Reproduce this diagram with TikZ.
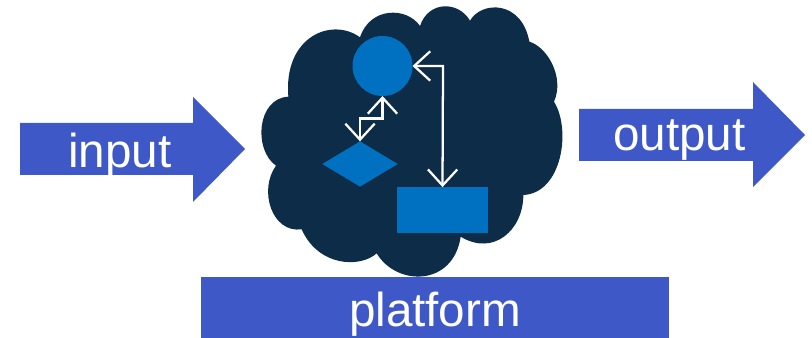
\documentclass[tikz,border=0pt]{standalone}
\usepackage{fontspec}
\setmainfont{Liberation Sans}
\usetikzlibrary{arrows.meta,shapes.geometric,shapes.arrows}
\definecolor{arrowblue}{HTML}{3F58C8}
\definecolor{cloudnavy}{HTML}{0C2C47}
\definecolor{shapeblue}{HTML}{0070C0}
\tikzset{
  x=0.75pt,y=-0.75pt,
  shapefill/.style={fill=shapeblue,draw=none,inner sep=0pt,outer sep=0pt},
  barb/.tip={Straight Barb[length=12pt,width=22pt,line width=1.7pt]},
  link/.style={draw=white,line width=1.7pt,{barb}-{barb}},
  lbl/.style={text=white,font=\fontsize{35.7}{36}\selectfont,inner sep=0pt}
}
\begin{document}
\begin{tikzpicture}
\useasboundingbox (0,0) rectangle (812,338);
% cloud
\begin{scope}[shift={(250,0)},x=0.25pt,y=-0.25pt]
\fill[cloudnavy] (115,290)
  .. controls (100,110) and (245,50) .. (330,112)
  .. controls (360,20) and (470,20) .. (510,78)
  .. controls (535,2) and (625,2) .. (660,62)
  .. controls (695,2) and (815,0) .. (838,125)
  .. controls (890,140) and (945,230) .. (912,305)
  .. controls (965,390) and (935,580) .. (820,585)
  .. controls (820,690) and (730,770) .. (632,710)
  .. controls (610,860) and (440,860) .. (380,760)
  .. controls (330,805) and (205,800) .. (155,688)
  .. controls (65,700) and (25,570) .. (78,497)
  .. controls (10,450) and (20,295) .. (115,290) -- cycle;
\end{scope}
% block arrows
\fill[arrowblue] (20,123) -- (193,123) -- (193,97) -- (245,149) -- (193,202) -- (193,175) -- (20,175) -- cycle;
\fill[arrowblue] (579,109) -- (753,109) -- (753,82) -- (805,135) -- (753,187) -- (753,161) -- (579,161) -- cycle;
\fill[arrowblue] (201,277) rectangle (669,338);
\node[lbl] (input) at (120,155) {input};
\node[lbl] (output) at (679.5,140) {output};
\node[lbl] (platform) at (435,314) {platform};
% flow shapes
\node[shapefill,circle,minimum size=45pt] (c) at (382.5,66) {};
\node[shapefill,diamond,aspect=1.66,minimum width=56.5pt,minimum height=34pt] (d) at (360,164) {};
\node[shapefill,rectangle,minimum width=68.3pt,minimum height=34.3pt] (r) at (442.5,210) {};
\coordinate (e1) at (443,66);
\draw[link] (c.east) -- (e1) -- (r.north);
\coordinate (m1) at (382.5,118.5);
\coordinate (m2) at (360,118.5);
\draw[link] (c.south) -- (m1) -- (m2) -- (d.north);
\end{tikzpicture}
\end{document}
